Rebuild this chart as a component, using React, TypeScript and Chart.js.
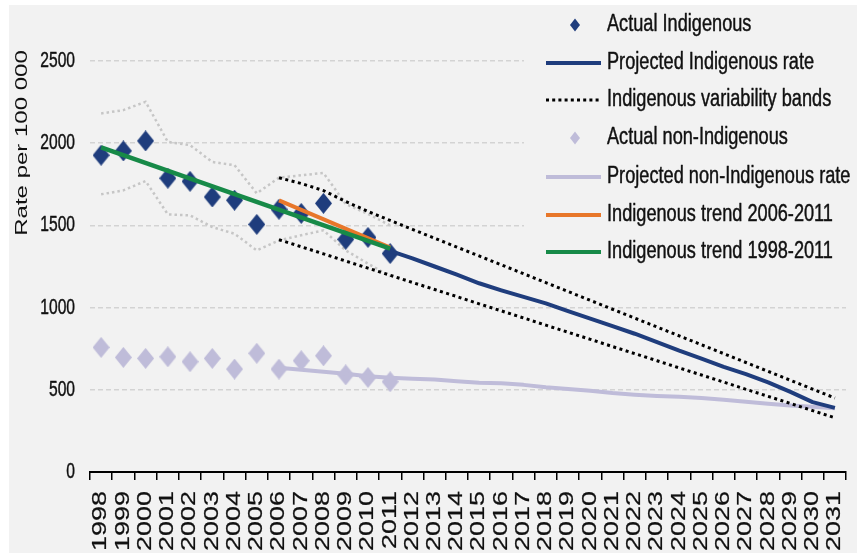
import React, { useEffect, useRef } from 'react';
import { Chart, registerables } from 'chart.js';

Chart.register(...registerables);

// ---- Data ----
const years = [
  '1998', '1999', '2000', '2001', '2002', '2003', '2004', '2005', '2006', '2007', '2008',
  '2009', '2010', '2011', '2012', '2013', '2014', '2015', '2016', '2017', '2018', '2019',
  '2020', '2021', '2022', '2023', '2024', '2025', '2026', '2027', '2028', '2029', '2030', '2031',
];

// 1998-2011
const actualIndigenous = [1927, 1953, 2014, 1787, 1768, 1673, 1653, 1506, 1598, 1573, 1634, 1415, 1427, 1329];
const actualNonIndigenous = [758, 697, 691, 701, 671, 691, 626, 722, 626, 677, 707, 591, 575, 549];
const greyBandUpper = [2181, 2201, 2252, 2008, 1988, 1886, 1866, 1695, 1790, 1805, 1819, 1630, 1570, 1500];
const greyBandLower = [1689, 1713, 1770, 1567, 1561, 1490, 1449, 1348, 1409, 1440, 1470, 1348, 1268, 1190];

// 2011-2031
const projectedIndigenous = [1345, 1300, 1250, 1200, 1148, 1105, 1065, 1026, 978, 933, 887, 841, 790, 738, 690, 640, 595, 545, 487, 425, 390];

// 2006-2031
const projectedNonIndigenous = [634, 622, 610, 598, 583, 573, 567, 562, 552, 543, 540, 530, 515, 505, 494, 480, 470, 463, 458, 450, 440, 428, 415, 405, 397, 388];
const variabilityUpper = [1790, 1755, 1712, 1645, 1585, 1530, 1476, 1422, 1368, 1314, 1260, 1206, 1152, 1098, 1044, 990, 936, 882, 828, 774, 720, 666, 612, 558, 504, 450];
const variabilityLower = [1413, 1370, 1327, 1283, 1240, 1197, 1153, 1110, 1067, 1023, 980, 937, 893, 850, 807, 763, 720, 677, 633, 590, 547, 503, 460, 417, 373, 330];

// trend line end points
const trend19982011 = { start: '1998', end: '2011', from: 1975, to: 1358 };
const trend20062011 = { start: '2006', end: '2011', from: 1652, to: 1365 };

const yTicks = [0, 500, 1000, 1500, 2000, 2500];
const yAxisTitle = 'Rate per 100 000';
const legendLabels = [
  'Actual Indigenous',
  'Projected Indigenous rate',
  'Indigenous variability bands',
  'Actual non-Indigenous',
  'Projected non-Indigenous rate',
  'Indigenous trend 2006-2011',
  'Indigenous trend 1998-2011',
];

// ---- Styles ----
const NAVY = '#1f3d7d';
const LAVENDER = '#bfbcd9';
const ORANGE = '#e8772a';
const GREEN = '#178a48';
const GREY_DOT = '#c6c6c6';
const BG = '#f2f2f2';
const TEXT = '#111111';
const FONT = '"Liberation Sans", Arial, sans-serif';

function place(values: number[], startYear: string): (number | null)[] {
  const s = years.indexOf(startYear);
  return years.map((_, i) => (i >= s && i - s < values.length ? values[i - s] : null));
}

function trendSeries(t: { start: string; end: string; from: number; to: number }): (number | null)[] {
  const s = years.indexOf(t.start);
  const e = years.indexOf(t.end);
  return years.map((_, i) => (i === s ? t.from : i === e ? t.to : null));
}

function diamondImage(color: string, w: number, h: number): HTMLCanvasElement {
  const c = document.createElement('canvas');
  c.width = w;
  c.height = h;
  const g = c.getContext('2d')!;
  g.fillStyle = color;
  g.beginPath();
  g.moveTo(w / 2, 0);
  g.lineTo(w, h / 2);
  g.lineTo(w / 2, h);
  g.lineTo(0, h / 2);
  g.closePath();
  g.fill();
  return c;
}

function paintText(ctx: CanvasRenderingContext2D, text: string, stroke: number) {
  ctx.fillStyle = TEXT;
  ctx.fillText(text, 0, 0);
  if (stroke > 0) {
    ctx.strokeStyle = TEXT;
    ctx.lineWidth = stroke;
    ctx.lineJoin = 'round';
    ctx.strokeText(text, 0, 0);
  }
}

function drawText(
  ctx: CanvasRenderingContext2D,
  text: string,
  x: number,
  y: number,
  size: number,
  sx: number,
  align: CanvasTextAlign,
) {
  ctx.save();
  ctx.translate(x, y);
  ctx.scale(sx, 1);
  ctx.font = `${size}px ${FONT}`;
  ctx.textAlign = align;
  ctx.textBaseline = 'middle';
  paintText(ctx, text, 0.45);
  ctx.restore();
}

const backgroundPlugin = {
  id: 'bgPanel',
  beforeDraw(chart: any) {
    const ctx = chart.ctx as CanvasRenderingContext2D;
    ctx.save();
    ctx.fillStyle = '#ffffff';
    ctx.fillRect(0, 0, chart.width, chart.height);
    ctx.fillStyle = BG;
    ctx.fillRect(9, 5, chart.width - 9, chart.height - 5);
    ctx.restore();
  },
};

const labelsPlugin = {
  id: 'customLabels',
  afterDraw(chart: any) {
    const ctx = chart.ctx as CanvasRenderingContext2D;
    const xs = chart.scales.x;
    const ys = chart.scales.y;

    // y tick labels
    yTicks.forEach((v) => {
      drawText(ctx, String(v), 75, ys.getPixelForValue(v), 22, 0.71, 'right');
    });

    // y axis title (rotated)
    ctx.save();
    ctx.translate(23, 143);
    ctx.rotate(-Math.PI / 2);
    ctx.scale(1, 0.66);
    ctx.font = `24px ${FONT}`;
    ctx.textAlign = 'center';
    ctx.textBaseline = 'middle';
    paintText(ctx, yAxisTitle, 0);
    ctx.restore();

    // x tick labels (rotated)
    years.forEach((yr, i) => {
      const px = xs.getPixelForValue(i);
      ctx.save();
      ctx.translate(px, xs.top + 19);
      ctx.rotate(-Math.PI / 2);
      ctx.scale(1, 0.72);
      ctx.font = `27px ${FONT}`;
      ctx.textAlign = 'right';
      ctx.textBaseline = 'middle';
      paintText(ctx, yr, 0.3);
      ctx.restore();
    });

    // legend panel
    ctx.save();
    ctx.fillStyle = BG;
    ctx.fillRect(524, 5, chart.width - 524, 262);
    ctx.restore();

    const rowY = [25, 63, 100, 138, 177, 215, 252];
    const x0 = 546;
    const x1 = 601;
    const drawLegendLine = (y: number, color: string, width: number, dash: number[]) => {
      ctx.save();
      ctx.strokeStyle = color;
      ctx.lineWidth = width;
      ctx.setLineDash(dash);
      ctx.beginPath();
      ctx.moveTo(x0, y);
      ctx.lineTo(x1, y);
      ctx.stroke();
      ctx.restore();
    };
    const drawLegendDiamond = (y: number, color: string) => {
      ctx.save();
      ctx.fillStyle = color;
      ctx.beginPath();
      ctx.moveTo(575, y - 6.5);
      ctx.lineTo(580, y);
      ctx.lineTo(575, y + 6.5);
      ctx.lineTo(570, y);
      ctx.closePath();
      ctx.fill();
      ctx.restore();
    };
    drawLegendDiamond(rowY[0], NAVY);
    drawLegendLine(rowY[1], NAVY, 4, []);
    drawLegendLine(rowY[2], '#000000', 3, [3, 3.2]);
    drawLegendDiamond(rowY[3], LAVENDER);
    drawLegendLine(rowY[4], LAVENDER, 4, []);
    drawLegendLine(rowY[5], ORANGE, 4, []);
    drawLegendLine(rowY[6], GREEN, 4, []);

    legendLabels.forEach((t, i) => drawText(ctx, t, 607, rowY[i], 23, 0.79, 'left'));
  },
};

export default function App() {
  const canvasRef = useRef<HTMLCanvasElement | null>(null);

  useEffect(() => {
    if (!canvasRef.current) return;
    const navyDiamond = diamondImage(NAVY, 17, 21);
    const lavenderDiamond = diamondImage(LAVENDER, 17, 21);

    const lineBase = {
      type: 'line' as const,
      pointRadius: 0,
      pointHoverRadius: 0,
      tension: 0,
      fill: false,
      spanGaps: true,
    };

    const chart = new Chart(canvasRef.current, {
      type: 'line',
      data: {
        labels: years,
        datasets: [
          {
            ...lineBase,
            label: legendLabels[6],
            data: trendSeries(trend19982011),
            borderColor: GREEN,
            borderWidth: 4.5,
            order: 1,
          },
          {
            ...lineBase,
            label: legendLabels[5],
            data: trendSeries(trend20062011),
            borderColor: ORANGE,
            borderWidth: 4,
            order: 2,
          },
          {
            ...lineBase,
            label: legendLabels[1],
            data: place(projectedIndigenous, '2011'),
            borderColor: NAVY,
            borderWidth: 4,
            borderJoinStyle: 'round',
            order: 3,
          },
          {
            ...lineBase,
            label: legendLabels[2],
            data: place(variabilityUpper, '2006'),
            borderColor: '#000000',
            borderWidth: 3,
            borderDash: [3, 3.5],
            order: 4,
          },
          {
            ...lineBase,
            label: legendLabels[2] + ' (lower)',
            data: place(variabilityLower, '2006'),
            borderColor: '#000000',
            borderWidth: 3,
            borderDash: [3, 3.5],
            order: 5,
          },
          {
            type: 'line',
            label: legendLabels[0],
            data: place(actualIndigenous, '1998'),
            showLine: false,
            pointStyle: navyDiamond,
            pointRadius: 10,
            order: 6,
          },
          {
            ...lineBase,
            label: legendLabels[4],
            data: place(projectedNonIndigenous, '2006'),
            borderColor: LAVENDER,
            borderWidth: 4,
            borderJoinStyle: 'round',
            order: 7,
          },
          {
            type: 'line',
            label: legendLabels[3],
            data: place(actualNonIndigenous, '1998'),
            showLine: false,
            pointStyle: lavenderDiamond,
            pointRadius: 10,
            order: 8,
          },
          {
            ...lineBase,
            label: 'Upper band (earlier)',
            data: place(greyBandUpper, '1998'),
            borderColor: GREY_DOT,
            borderWidth: 2.5,
            borderDash: [2.5, 3],
            order: 9,
          },
          {
            ...lineBase,
            label: 'Lower band (earlier)',
            data: place(greyBandLower, '1998'),
            borderColor: GREY_DOT,
            borderWidth: 2.5,
            borderDash: [2.5, 3],
            order: 10,
          },
        ] as any,
      },
      options: {
        responsive: false,
        animation: false,
        devicePixelRatio: 1,
        layout: { padding: { top: 61, right: 5, left: 0, bottom: 0 } },
        plugins: {
          legend: { display: false },
          tooltip: { enabled: false },
          title: { display: false },
        },
        events: [],
        scales: {
          x: {
            type: 'category',
            offset: true,
            afterFit(scale: any) {
              scale.height = 81;
            },
            grid: {
              offset: true,
              drawOnChartArea: false,
              drawTicks: true,
              tickLength: 8,
              color: '#000000',
              lineWidth: 1.5,
            },
            border: { display: true, color: '#000000', width: 2 },
            ticks: { display: false },
          },
          y: {
            min: 0,
            max: 2500,
            afterFit(scale: any) {
              scale.width = 90;
            },
            afterBuildTicks(scale: any) {
              scale.ticks = yTicks.map((v) => ({ value: v }));
            },
            grid: {
              color: '#d3d3d3',
              lineWidth: 1.5,
              drawTicks: false,
            },
            border: { display: false, dash: [5, 3] },
            ticks: { display: false },
          },
        },
      },
      plugins: [backgroundPlugin, labelsPlugin],
    });

    return () => chart.destroy();
  }, []);

  return (
    <div style={{ position: 'fixed', left: 0, top: 0, width: 857, height: 553 }}>
      <canvas ref={canvasRef} width={857} height={553} style={{ display: 'block' }} />
    </div>
  );
}
